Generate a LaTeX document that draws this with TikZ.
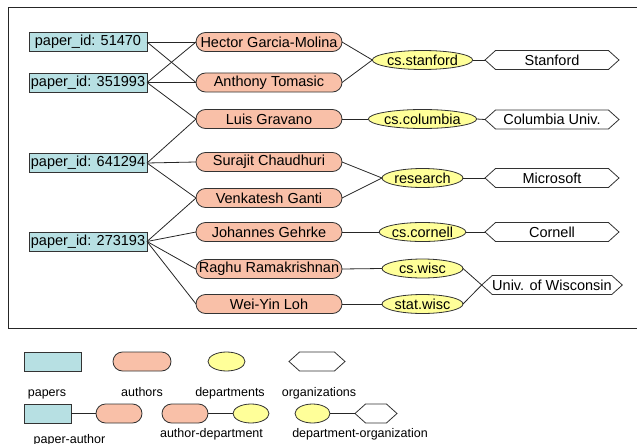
\documentclass[tikz,border=0pt]{standalone}
\usepackage{fontspec}
\setmainfont{Liberation Sans}
\usetikzlibrary{shapes.misc,shapes.geometric,shapes.symbols}
\definecolor{paperc}{HTML}{B7E0E3}
\definecolor{authorc}{HTML}{F9C0A8}
\definecolor{deptc}{HTML}{FFFF99}
\begin{document}
\begin{tikzpicture}[x=1pt,y=-1pt,
  every node/.style={inner sep=0pt,outer sep=0pt},
  base/.style={draw=black!80,line width=0.8pt,font=\fontsize{14.5}{16}\selectfont},
  paper/.style={base,rectangle,fill=paperc,minimum width=118pt,minimum height=19pt},
  author/.style={base,rounded rectangle,fill=authorc,minimum width=146pt,minimum height=19pt},
  dept/.style={base,ellipse,fill=deptc,minimum width=81pt,minimum height=19pt},
  org/.style={base,signal,signal to=east and west,signal pointer angle=84,fill=white,minimum width=134pt,minimum height=19pt},
  conn/.style={line width=0.8pt,black!85},
  lbl/.style={font=\fontsize{12.5}{14}\selectfont,anchor=base}]
\useasboundingbox (0,0) rectangle (637,444);
\draw[line width=1pt,black!85] (637,8) -- (8,8) -- (8,328) -- (637,328);

% papers
\node[paper] (p1) at (88,42) {paper\_id: 51470};
\node[paper] (p2) at (88,82.5) {paper\_id: 351993};
\node[paper] (p3) at (88,163) {paper\_id: 641294};
\node[paper] (p4) at (88,241.5) {paper\_id: 273193};

% authors
\node[author] (a1) at (269,42) {Hector Garcia-Molina};
\node[author] (a2) at (269,82.5) {Anthony Tomasic};
\node[author] (a3) at (269,119) {Luis Gravano};
\node[author] (a4) at (269,162) {Surajit Chaudhuri};
\node[author] (a5) at (269,198) {Venkatesh Ganti};
\node[author] (a6) at (269,232) {Johannes Gehrke};
\node[author] (a7) at (269,269) {Raghu Ramakrishnan};
\node[author] (a8) at (269,304) {Wei-Yin Loh};

% departments
\node[dept] (d1) at (422.5,60) {cs.stanford};
\node[dept] (d2) at (422.5,119) {cs.columbia};
\node[dept] (d3) at (422.5,178) {research};
\node[dept] (d4) at (422.5,232) {cs.cornell};
\node[dept] (d5) at (422.5,268.5) {cs.wisc};
\node[dept] (d6) at (422.5,304) {stat.wisc};

% organizations
\node[org] (o1) at (552,60) {Stanford};
\node[org] (o2) at (552,119.5) {Columbia Univ.};
\node[org] (o3) at (552,178) {Microsoft};
\node[org] (o4) at (552,232) {Cornell};
\node[org] (o5) at (552,285) {Univ. of Wisconsin};

% paper-author
\foreach \p/\a in {p1/a1,p1/a2,p2/a1,p2/a2,p2/a3,p3/a3,p3/a4,p3/a5,p4/a5,p4/a6,p4/a7,p4/a8}
  \draw[conn] (\p.east) -- (\a.west);
% author-department
\foreach \a/\d in {a1/d1,a2/d1,a3/d2,a4/d3,a5/d3,a6/d4,a7/d5,a8/d6}
  \draw[conn] (\a.east) -- (\d.west);
% department-organization
\foreach \d/\o in {d1/o1,d2/o2,d3/o3,d4/o4,d5/o5,d6/o5}
  \draw[conn] (\d.east) -- (\o.west);

% legend row 1
\node[paper,minimum width=57pt] (lp) at (52.5,361.5) {};
\node[author,minimum width=58pt] (la) at (142,361.5) {};
\node[dept,minimum width=37pt] (ld) at (226.5,361.5) {};
\node[org,minimum width=56pt] (lo) at (317,361.5) {};
\node[lbl] (tp) at (47,396.5) {papers};
\node[lbl] (ta) at (142,396.5) {authors};
\node[lbl] (td) at (230,396.5) {departments};
\node[lbl] (to) at (319,396.5) {organizations};

% legend row 2
\node[paper,minimum width=47pt] (lp2) at (47.5,413.5) {};
\node[author,minimum width=46pt] (la2) at (119,413.5) {};
\draw[conn] (lp2.east) -- (la2.west);
\node[author,minimum width=46pt] (la3) at (185,413.5) {};
\node[dept,minimum width=36pt] (ld3) at (251,413.5) {};
\draw[conn] (la3.east) -- (ld3.west);
\node[dept,minimum width=35pt] (ld4) at (312.5,413.5) {};
\node[org,minimum width=42pt] (lo4) at (376,413.5) {};
\draw[conn] (ld4.east) -- (lo4.west);
\node[lbl] (tpa) at (69.5,443) {paper-author};
\node[lbl] (tad) at (211.5,437.5) {author-department};
\node[lbl] (tdo) at (360,437.5) {department-organization};
\end{tikzpicture}
\end{document}
